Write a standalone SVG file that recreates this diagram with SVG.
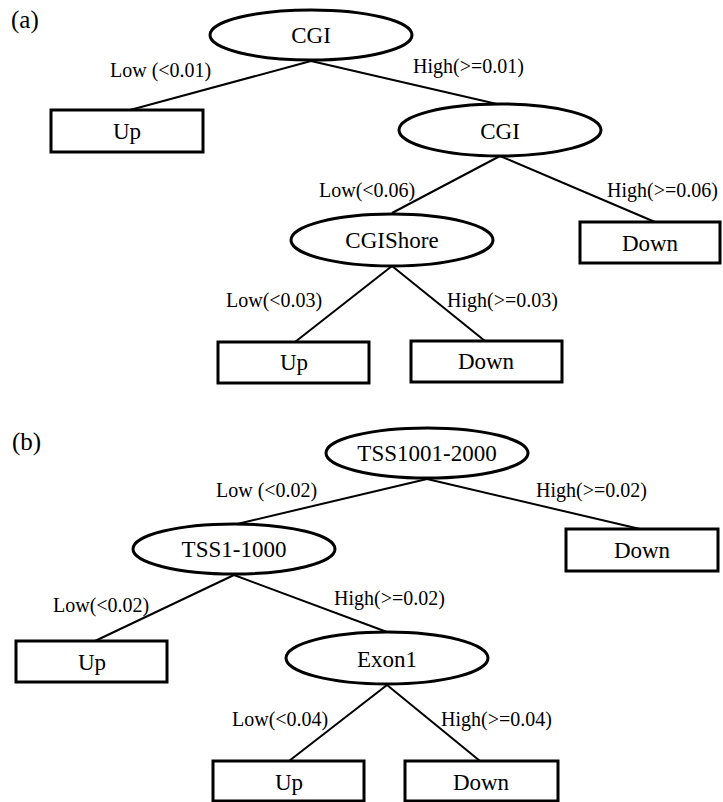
<svg xmlns="http://www.w3.org/2000/svg" width="723" height="802" viewBox="0 0 723 802">
  <style>
    .node { fill: #fff; stroke: #000; stroke-width: 3; }
    .edge { stroke: #000; stroke-width: 2; fill: none; }
    .name { font-family: "Liberation Serif", "Times New Roman", serif; font-size: 23px; text-anchor: middle; fill: #000; }
    .cond { font-family: "Liberation Serif", "Times New Roman", serif; font-size: 20px; fill: #000; }
    .panel { font-family: "Liberation Serif", "Times New Roman", serif; font-size: 25px; fill: #000; }
  </style>
  <rect width="723" height="802" fill="#fff"/>

  <!-- panel labels -->
  <text class="panel" x="11" y="28">(a)</text>
  <text class="panel" x="12" y="450">(b)</text>

  <!-- connectors -->
  <g id="edges">
    <!-- tree (a) -->
    <line class="edge" x1="311" y1="61" x2="130" y2="110"/>
    <line class="edge" x1="311" y1="61" x2="497" y2="104"/>
    <line class="edge" x1="500" y1="156" x2="392" y2="213"/>
    <line class="edge" x1="500" y1="156" x2="655" y2="222"/>
    <line class="edge" x1="392" y1="266" x2="295" y2="342"/>
    <line class="edge" x1="392" y1="266" x2="485" y2="341"/>
    <!-- tree (b) -->
    <line class="edge" x1="427" y1="479" x2="237" y2="524"/>
    <line class="edge" x1="427" y1="479" x2="640" y2="529"/>
    <line class="edge" x1="234" y1="575" x2="95" y2="641"/>
    <line class="edge" x1="234" y1="575" x2="387" y2="632"/>
    <line class="edge" x1="387" y1="685" x2="289" y2="761"/>
    <line class="edge" x1="387" y1="685" x2="480" y2="761"/>
  </g>

  <!-- branch conditions -->
  <g id="edge-labels">
    <text class="cond" x="110" y="77">Low (&lt;0.01)</text>
    <text class="cond" x="413" y="73">High(&gt;=0.01)</text>
    <text class="cond" x="319" y="197">Low(&lt;0.06)</text>
    <text class="cond" x="607" y="197">High(&gt;=0.06)</text>
    <text class="cond" x="226" y="307">Low(&lt;0.03)</text>
    <text class="cond" x="447" y="307">High(&gt;=0.03)</text>

    <text class="cond" x="216" y="497">Low (&lt;0.02)</text>
    <text class="cond" x="536" y="497">High(&gt;=0.02)</text>
    <text class="cond" x="53" y="612">Low(&lt;0.02)</text>
    <text class="cond" x="334" y="605">High(&gt;=0.02)</text>
    <text class="cond" x="232" y="726">Low(&lt;0.04)</text>
    <text class="cond" x="441" y="726">High(&gt;=0.04)</text>
  </g>

  <!-- tree (a) nodes -->
  <g id="a-cgi-root">
    <ellipse class="node" cx="311" cy="35" rx="101" ry="25"/>
    <text class="name" x="311" y="43">CGI</text>
  </g>
  <g id="a-up-1">
    <rect class="node" x="51" y="110" width="152" height="42"/>
    <text class="name" x="127" y="139">Up</text>
  </g>
  <g id="a-cgi-2">
    <ellipse class="node" cx="500" cy="130" rx="101" ry="26"/>
    <text class="name" x="500" y="139">CGI</text>
  </g>
  <g id="a-down-1">
    <rect class="node" x="580" y="222" width="140" height="41"/>
    <text class="name" x="650" y="251">Down</text>
  </g>
  <g id="a-cgishore">
    <ellipse class="node" cx="392" cy="240" rx="101" ry="26"/>
    <text class="name" x="392" y="248">CGIShore</text>
  </g>
  <g id="a-up-2">
    <rect class="node" x="218" y="342" width="151" height="41"/>
    <text class="name" x="294" y="370">Up</text>
  </g>
  <g id="a-down-2">
    <rect class="node" x="411" y="341" width="151" height="41"/>
    <text class="name" x="486" y="369">Down</text>
  </g>

  <!-- tree (b) nodes -->
  <g id="b-tss1001">
    <ellipse class="node" cx="427" cy="453" rx="101" ry="25"/>
    <text class="name" x="427" y="461">TSS1001-2000</text>
  </g>
  <g id="b-down-1">
    <rect class="node" x="566" y="529" width="152" height="42"/>
    <text class="name" x="642" y="558">Down</text>
  </g>
  <g id="b-tss1">
    <ellipse class="node" cx="234" cy="549" rx="101" ry="25"/>
    <text class="name" x="234" y="557">TSS1-1000</text>
  </g>
  <g id="b-up-1">
    <rect class="node" x="16" y="641" width="151" height="41"/>
    <text class="name" x="92" y="670">Up</text>
  </g>
  <g id="b-exon1">
    <ellipse class="node" cx="387" cy="658" rx="101" ry="26"/>
    <text class="name" x="387" y="667">Exon1</text>
  </g>
  <g id="b-up-2">
    <rect class="node" x="213" y="761" width="151" height="40"/>
    <text class="name" x="289" y="790">Up</text>
  </g>
  <g id="b-down-2">
    <rect class="node" x="405" y="761" width="153" height="40"/>
    <text class="name" x="481" y="790">Down</text>
  </g>
</svg>
